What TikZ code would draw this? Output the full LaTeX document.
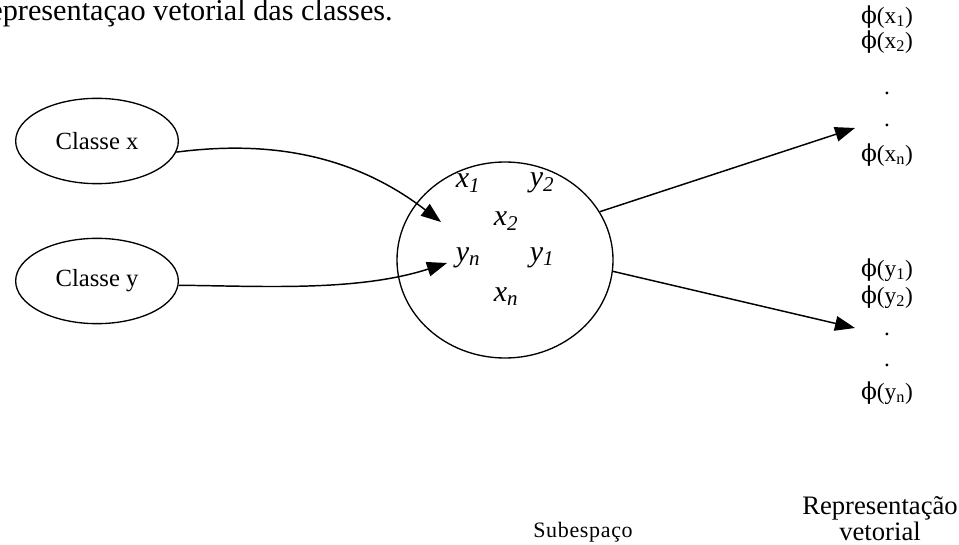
\documentclass[tikz,border=0pt]{standalone}
\usepackage{fontspec}
\setmainfont{Liberation Serif}
\newfontfamily\fifont{DejaVu Serif}
\usetikzlibrary{arrows.meta,shapes.geometric,positioning}
\newcommand{\vphi}{{\fifont\symbol{"03D5}}}

\begin{document}
\begin{tikzpicture}[x=0.75pt,y=-0.75pt,>={Triangle[length=15pt,width=11pt]},
    classe/.style={draw,ellipse,line width=1pt,inner sep=0pt,
      minimum width=122pt,minimum height=64pt,font=\fontsize{18.5}{20}\selectfont},
    elem/.style={font=\fontsize{22.5}{24}\selectfont\itshape,inner sep=0pt},
    vetor/.style={font=\fontsize{17.5}{18}\selectfont,inner sep=0pt},
    rotulo/.style={font=\fontsize{20}{18}\selectfont,inner sep=0pt},
    seta/.style={->,line width=1.1pt}]
  \useasboundingbox (0,0) rectangle (959,545);
  \node[anchor=base east,inner sep=0pt,font=\fontsize{22.7}{24}\selectfont] (titulo)
    at (393,21) {Representaçao vetorial das classes.};
  % classes
  \node[classe] (classx) at (97,141) {Classe x};
  \node[classe] (classy) at (97,281) {Classe y};
  % subespaco
  \node[draw,ellipse,line width=1pt,minimum width=162pt,minimum height=147pt]
    (sub) at (505,260) {};
  \node[elem] (x1) at (468,183) {x\textsubscript{1}};
  \node[elem] (y2) at (542,183) {y\textsubscript{2}};
  \node[elem] (x2) at (506,221) {x\textsubscript{2}};
  \node[elem] (yn) at (468,258) {y\textsubscript{n}};
  \node[elem] (y1) at (542,258) {y\textsubscript{1}};
  \node[elem] (xn) at (506,297) {x\textsubscript{n}};
  % vetores
  \node[vetor] (fx1) at (887,17) {\vphi(x\textsubscript{1})};
  \node[vetor] (fx2) at (887,42) {\vphi(x\textsubscript{2})};
  \node[vetor] (dx1) at (887,93) {.};
  \node[vetor] (dx2) at (887,125) {.};
  \node[vetor] (fxn) at (887,155) {\vphi(x\textsubscript{n})};
  \node[vetor] (fy1) at (887,270) {\vphi(y\textsubscript{1})};
  \node[vetor] (fy2) at (887,297) {\vphi(y\textsubscript{2})};
  \node[vetor] (dy1) at (887,334) {.};
  \node[vetor] (dy2) at (887,365) {.};
  \node[vetor] (fyn) at (887,393) {\vphi(y\textsubscript{n})};
  % legendas
  \node[font=\fontsize{16.5}{18}\selectfont\addfontfeature{LetterSpace=3},inner sep=0pt]
    (legsub) at (583,532) {Subespaço};
  \node[rotulo] (legrep) at (880,508) {Representação};
  \node[rotulo] (legvet) at (880,531) {vetorial};
  % setas
  \coordinate (pontax) at (441,222);
  \coordinate (pontay) at (447,263);
  \coordinate (saidax) at (855,128);
  \coordinate (saiday) at (855,328);
  \draw[seta] (classx.-8) .. controls (255,142) and (345,148) .. (pontax);
  \draw[seta] (classy.-3) .. controls (260,286) and (357,292) .. (pontay);
  \draw[seta] (sub.27) -- (saidax);
  \draw[seta] (sub.-6) -- (saiday);
\end{tikzpicture}
\end{document}
